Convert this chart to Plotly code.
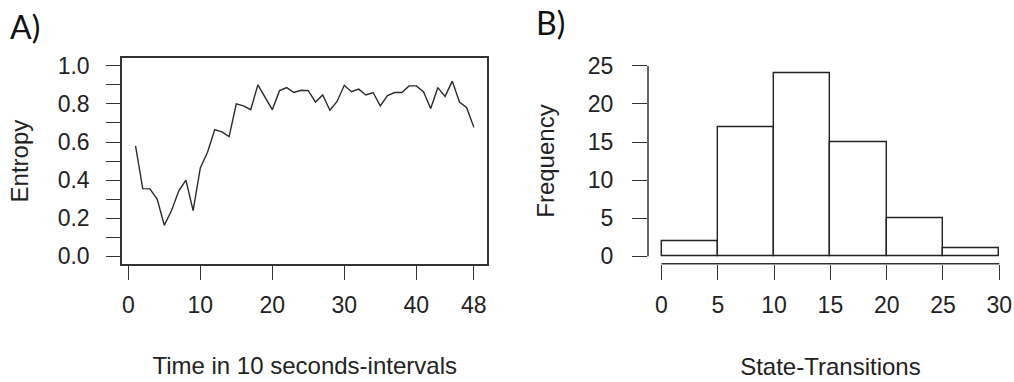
import plotly.graph_objects as go

# ---- data ----
time_idx = list(range(1, 49))
entropy = [0.58, 0.355, 0.354, 0.30, 0.163, 0.24, 0.342, 0.40, 0.24, 0.464,
           0.546, 0.665, 0.653, 0.628, 0.80, 0.79, 0.77, 0.90, 0.835, 0.77,
           0.87, 0.886, 0.86, 0.872, 0.87, 0.81, 0.847, 0.767, 0.813, 0.898,
           0.864, 0.878, 0.847, 0.86, 0.79, 0.844, 0.86, 0.86, 0.895, 0.895,
           0.864, 0.776, 0.886, 0.84, 0.92, 0.81, 0.78, 0.677]
x_ticks_a = [0, 10, 20, 30, 40, 48]
y_ticks_a = [0.0, 0.1, 0.2, 0.3, 0.4, 0.5, 0.6, 0.7, 0.8, 0.9, 1.0]
y_labels_a = ["0.0", "", "0.2", "", "0.4", "", "0.6", "", "0.8", "", "1.0"]

bin_edges = [0, 5, 10, 15, 20, 25, 30]
counts = [2, 17, 24, 15, 5, 1]
x_ticks_b = [0, 5, 10, 15, 20, 25, 30]
y_ticks_b = [0, 5, 10, 15, 20, 25]

# ---- layout helpers ----
W, H = 1014, 382
def px(x):
    return x / W
def py(y):
    return 1 - y / H

FONT = "Liberation Sans, Arial, sans-serif"
TXT = "#222222"
LINE = "#333333"

bin_centers = [(a + b) / 2 for a, b in zip(bin_edges[:-1], bin_edges[1:])]
bin_widths = [b - a for a, b in zip(bin_edges[:-1], bin_edges[1:])]

fig = go.Figure()
fig.add_trace(go.Scatter(x=time_idx, y=entropy, mode="lines",
                         line=dict(color="#2a2a2a", width=1.4),
                         xaxis="x", yaxis="y", showlegend=False))
fig.add_trace(go.Bar(x=bin_centers, y=counts, width=bin_widths,
                     marker=dict(color="white", line=dict(color="#222222", width=1.4)),
                     xaxis="x2", yaxis="y2", showlegend=False))

tickfont = dict(family=FONT, size=23, color=TXT)
titlefont = dict(family=FONT, size=24, color=TXT)

TOP, BOT = 54.7, 265.8

fig.update_layout(
    width=W, height=H, autosize=False,
    margin=dict(l=0, r=0, t=0, b=0),
    paper_bgcolor="white", plot_bgcolor="white",
    bargap=0,
    xaxis=dict(domain=[px(122.0), px(487.4)], anchor="y",
               range=[1 - 0.04 * 47, 48 + 0.04 * 47],
               tickmode="array", tickvals=x_ticks_a,
               ticks="outside", ticklen=14, tickwidth=1.4, tickcolor=LINE,
               showline=True, linecolor=LINE, linewidth=1.5, mirror=True,
               showgrid=False, zeroline=False, tickfont=tickfont,
               ticklabelstandoff=6,
               title=dict(text="Time in 10 seconds-intervals", font=titlefont, standoff=40)),
    yaxis=dict(domain=[py(BOT), py(TOP)], anchor="x",
               range=[-0.04, 1.04],
               tickmode="array", tickvals=y_ticks_a, ticktext=y_labels_a,
               ticks="outside", ticklen=14, tickwidth=1.4, tickcolor=LINE,
               showline=True, linecolor=LINE, linewidth=1.5, mirror=True,
               showgrid=False, zeroline=False, tickfont=tickfont,
               ticklabelstandoff=12,
               title=dict(text="Entropy", font=titlefont, standoff=22)),
    xaxis2=dict(domain=[px(648.0), px(1012.8)], anchor="y2",
                range=[-1.2, 31.2],
                tickmode="array", tickvals=x_ticks_b,
                ticks="outside", ticklen=15, tickwidth=1.4, tickcolor=LINE,
                showline=False, showgrid=False, zeroline=False, tickfont=tickfont,
                ticklabelstandoff=6,
                title=dict(text="State-Transitions", font=titlefont, standoff=40)),
    yaxis2=dict(domain=[py(BOT), py(TOP)], anchor="x2",
                range=[-1, 26],
                tickmode="array", tickvals=y_ticks_b,
                ticks="outside", ticklen=15, tickwidth=1.4, tickcolor=LINE,
                showline=False, showgrid=False, zeroline=False, tickfont=tickfont,
                ticklabelstandoff=14,
                title=dict(text="Frequency", font=titlefont, standoff=26)),
    shapes=[
        dict(type="line", xref="x2", yref="paper", x0=x_ticks_b[0], x1=x_ticks_b[-1],
             y0=py(BOT), y1=py(BOT), line=dict(color=LINE, width=1.5)),
        dict(type="line", xref="paper", yref="y2", x0=px(648.0), x1=px(648.0),
             y0=y_ticks_b[0], y1=y_ticks_b[-1], line=dict(color=LINE, width=1.5)),
    ],
    annotations=[
        dict(text="A)", x=px(8), y=py(22), xref="paper", yref="paper",
             xanchor="left", yanchor="middle", showarrow=False,
             font=dict(family="Lato, Liberation Sans, sans-serif", size=32, color="#111111")),
        dict(text="B)", x=px(534), y=py(18), xref="paper", yref="paper",
             xanchor="left", yanchor="middle", showarrow=False,
             font=dict(family="Lato, Liberation Sans, sans-serif", size=32, color="#111111")),
    ],
)

fig.write_html("out.html", config={"displayModeBar": False},
               post_script="document.body.style.margin='0';document.body.style.padding='0';")
